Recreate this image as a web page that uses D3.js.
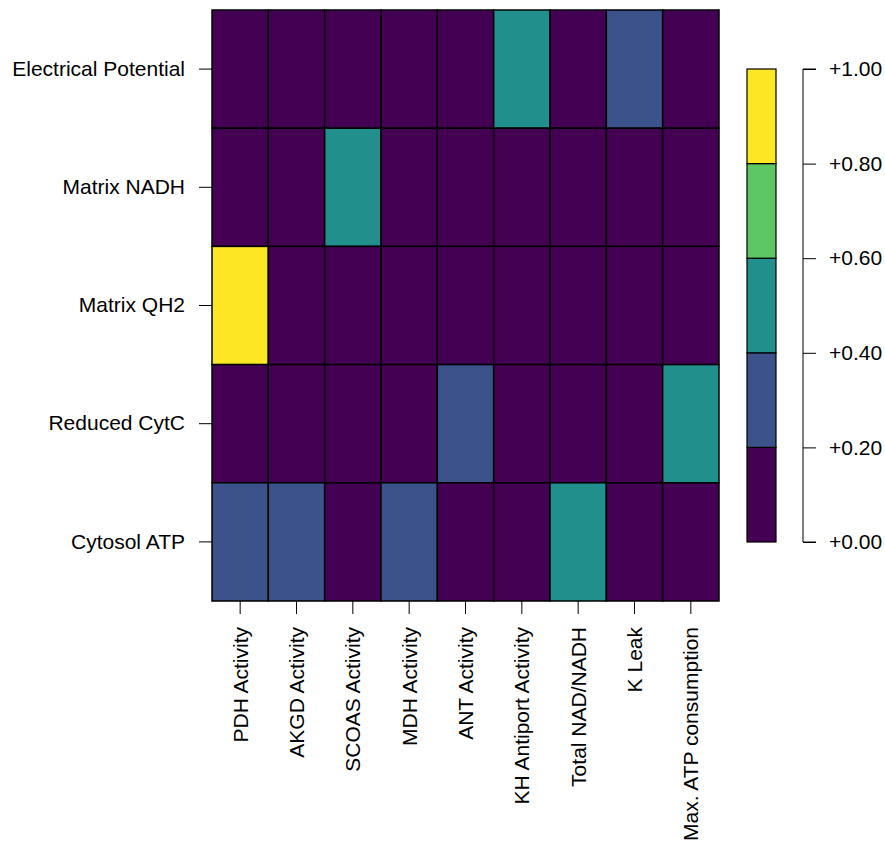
<!DOCTYPE html>
<html>
<head>
<meta charset="utf-8">
<script src="https://cdn.jsdelivr.net/npm/d3@7"></script>
<style>
  body { margin: 0; background: white; }
  text { font-family: "Liberation Sans", Arial, sans-serif; fill: #000; }
</style>
</head>
<body>
<div id="holder"></div>
<script>
// rows (top to bottom) and columns (left to right)
var rows = ["Electrical Potential", "Matrix NADH", "Matrix QH2", "Reduced CytC", "Cytosol ATP"];
var cols = ["PDH Activity", "AKGD Activity", "SCOAS Activity", "MDH Activity", "ANT Activity",
            "KH Antiport Activity", "Total NAD/NADH", "K Leak", "Max. ATP consumption"];

// sensitivity values, one array per row
var electricalPotential = [0.02, 0.01, 0.03, 0.02, 0.05, 0.50, 0.04, 0.30, 0.03];
var matrixNADH          = [0.03, 0.04, 0.48, 0.02, 0.01, 0.05, 0.06, 0.02, 0.01];
var matrixQH2           = [0.92, 0.05, 0.08, 0.03, 0.04, 0.06, 0.07, 0.05, 0.02];
var reducedCytC         = [0.04, 0.06, 0.09, 0.05, 0.32, 0.08, 0.10, 0.07, 0.47];
var cytosolATP          = [0.28, 0.26, 0.04, 0.30, 0.06, 0.09, 0.45, 0.03, 0.11];
var values = [electricalPotential, matrixNADH, matrixQH2, reducedCytC, cytosolATP];

// legend
var legendBreaks = [0, 0.2, 0.4, 0.6, 0.8, 1.0];
var legendColors = ["#440154", "#3B528B", "#21908C", "#5DC863", "#FDE725"];

var WIDTH = 885, HEIGHT = 849, FS = 21;
var svg = d3.select("#holder").append("svg")
    .attr("width", WIDTH)
    .attr("height", HEIGHT);

var x = d3.scaleBand().domain(cols).range([212, 719]).padding(0);
var y = d3.scaleBand().domain(rows).range([10, 601]).padding(0);
var color = d3.scaleQuantize().domain([0, 1]).range(legendColors);

var cells = [];
rows.forEach(function(r, i) {
  cols.forEach(function(c, j) {
    cells.push({row: r, col: c, v: values[i][j]});
  });
});

svg.append("g").selectAll("rect")
    .data(cells)
    .enter().append("rect")
    .attr("x", function(d) { return x(d.col); })
    .attr("y", function(d) { return y(d.row); })
    .attr("width", x.bandwidth())
    .attr("height", y.bandwidth())
    .attr("fill", function(d) { return color(d.v); })
    .attr("stroke", "#000")
    .attr("stroke-width", 1.5);

// Y axis (row labels)
var gy = svg.append("g")
    .attr("transform", "translate(199,0)")
    .call(d3.axisLeft(y).tickSize(0).tickPadding(14));
gy.select(".domain").remove();
gy.selectAll(".tick").append("line")
    .attr("x1", 0).attr("x2", 13)
    .attr("stroke", "#000");
gy.selectAll("text").attr("font-size", FS).attr("fill", "#000")
    .style("font-family", '"Liberation Sans", Arial, sans-serif');

// X axis (column labels)
var gx = svg.append("g")
    .attr("transform", "translate(0,601)")
    .call(d3.axisBottom(x).tickSize(13).tickSizeOuter(0));
gx.select(".domain").remove();
gx.selectAll("line").attr("stroke", "#000");
gx.selectAll("text")
    .attr("font-size", FS).attr("fill", "#000")
    .style("font-family", '"Liberation Sans", Arial, sans-serif')
    .attr("transform", "rotate(-90)")
    .attr("x", -26).attr("y", 0).attr("dy", "0.35em")
    .attr("text-anchor", "end");

// legend colour bar
var ly = d3.scaleLinear().domain([0, 1]).range([542, 69]);
var bins = d3.range(legendColors.length).map(function(i) {
  return {lo: legendBreaks[i], hi: legendBreaks[i + 1], c: legendColors[i]};
});
svg.append("g").selectAll("rect")
    .data(bins)
    .enter().append("rect")
    .attr("x", 747)
    .attr("y", function(d) { return ly(d.hi); })
    .attr("width", 29)
    .attr("height", function(d) { return ly(d.lo) - ly(d.hi); })
    .attr("fill", function(d) { return d.c; })
    .attr("stroke", "#000")
    .attr("stroke-width", 1.2);

var gl = svg.append("g")
    .attr("transform", "translate(803,0)")
    .call(d3.axisRight(ly).tickValues(legendBreaks).tickSize(13).tickPadding(13)
      .tickFormat(function(d) { return "+" + d3.format(".2f")(d); }));
gl.select(".domain").attr("stroke", "#000").attr("d", "M13,69H0V542H13");
gl.selectAll("line").attr("stroke", "#000");
gl.selectAll("text").attr("font-size", FS).attr("fill", "#000")
    .style("font-family", '"Liberation Sans", Arial, sans-serif');
</script>
</body>
</html>
